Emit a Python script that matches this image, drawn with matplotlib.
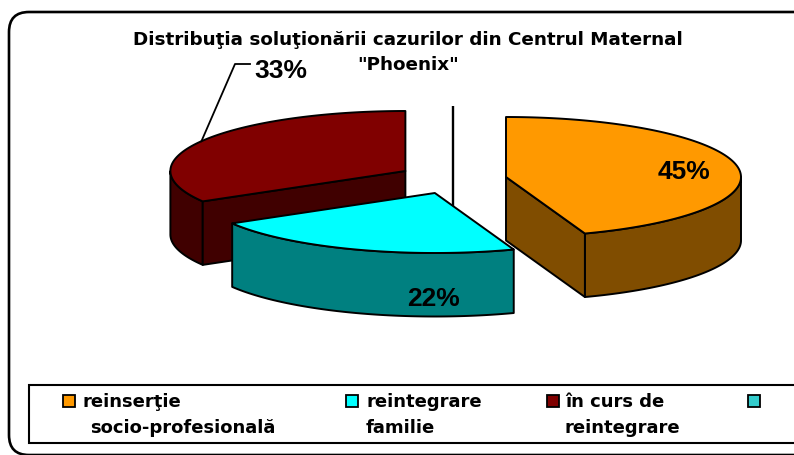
import numpy as np
import matplotlib
matplotlib.use("Agg")
import matplotlib.pyplot as plt
from matplotlib.patches import Polygon, FancyBboxPatch, Rectangle

title_lines = ["Distribuţia soluţionării cazurilor din Centrul Maternal", '"Phoenix"']
categories = ["reinserţie\nsocio-profesională", "reintegrare\nfamilie", "în curs de\nreintegrare", ""]
values = [44.55, 22.0, 33.45]
top_colors = ["#FF9900", "#00FFFF", "#800000"]
side_colors = ["#804D00", "#008080", "#400000"]
legend_colors = ["#FF9900", "#00FFFF", "#800000", "#33CCCC"]

W, H = 794, 456
CX, CY, RX, RY, DEPTH = 452.5, 178.0, 235.0, 60.0, 63.5
EXPLODE_X = [0.231, 0.22, 0.231]
EXPLODE_Y = [0.0, 16 / 60, -6 / 60]
DRAW_ORDER = [2, 0, 1]
LABEL_POS = [(683.5, 172), (433, 299), (281, 71)]
LW = 1.4

plt.rcParams["font.family"] = ["Liberation Sans", "DejaVu Sans"]
fig = plt.figure(figsize=(W / 100, H / 100), dpi=100)
ax = fig.add_axes([0, 0, 1, 1])
ax.set_xlim(0, W)
ax.set_ylim(H, 0)
ax.axis("off")

# outer rounded frame runs past the right edge of the canvas
ax.add_patch(FancyBboxPatch((29, 33), 775, 403, boxstyle="round,pad=20,rounding_size=20",
                            fc="white", ec="black", lw=1.9, clip_on=True, zorder=0))

# black seam running from the pie centre upward, behind the slices
ax.plot([CX, CX], [107, 215], color="black", lw=1.7, zorder=1, solid_capstyle="butt")


def pt(c, deg, dz=0.0):
    t = np.radians(deg)
    return c[0] + RX * np.sin(t), c[1] - RY * np.cos(t) + dz


edges = np.concatenate([[0], np.cumsum(values)]) / np.sum(values) * 360
centers = []
for i in range(len(values)):
    mid = np.radians((edges[i] + edges[i + 1]) / 2)
    centers.append((CX + EXPLODE_X[i] * RX * np.sin(mid), CY + EXPLODE_Y[i] * RY))

z = 2
for i in DRAW_ORDER:
    a0, a1 = edges[i], edges[i + 1]
    c = centers[i]
    sides = []
    # outer wall: only the part of the rim that faces the viewer
    f0, f1 = max(a0, 90), min(a1, 270)
    if f1 > f0:
        th = np.linspace(f0, f1, 120)
        xs, ys = pt(c, th)
        sides.append(np.column_stack([np.r_[xs, xs[::-1]], np.r_[ys, ys[::-1] + DEPTH]]))
    # flat cut walls that face the viewer
    if i == 0:
        x, y = pt(c, a1)
        sides.append(np.array([c, (x, y), (x, y + DEPTH), (c[0], c[1] + DEPTH)]))
    if i == 2:
        x, y = pt(c, a0)
        sides.append(np.array([c, (x, y), (x, y + DEPTH), (c[0], c[1] + DEPTH)]))
    for s in sides:
        ax.add_patch(Polygon(s, closed=True, fc=side_colors[i], ec="black", lw=LW, zorder=z, joinstyle="round"))
    th = np.linspace(a0, a1, 240)
    xs, ys = pt(c, th)
    top = np.column_stack([np.r_[c[0], xs], np.r_[c[1], ys]])
    ax.add_patch(Polygon(top, closed=True, fc=top_colors[i], ec="black", lw=LW, zorder=z + 1, joinstyle="round"))
    z += 2

for v, (x, y) in zip(values, LABEL_POS):
    ax.text(x, y, f"{round(v)}%", fontsize=19, fontweight="bold", ha="center", va="center", color="black", zorder=20)

# leader line of the 33 % label, from the middle of its rim
lx, ly = pt(centers[2], (edges[2] + edges[3]) / 2)
ax.plot([lx, 235, 250], [ly, 65, 65], color="black", lw=1.3, zorder=20)

for line, y, fs in zip(title_lines, [40, 65], [13.25, 13.25]):
    ax.text(408, y, line, fontsize=fs, family="DejaVu Sans", fontweight="bold", ha="center", va="center",
            color="black", zorder=20)

# legend
ax.add_patch(Rectangle((29, 386), 775, 58, fc="white", ec="black", lw=1.5, zorder=15))
key_x = [63, 346, 547, 748]
text_x = [(82, 90), (366, 366), (565, 565), (0, 0)]
for cat, col, kx, tx in zip(categories, legend_colors, key_x, text_x):
    ax.add_patch(Rectangle((kx, 396), 12, 12, fc=col, ec="black", lw=1.3, zorder=16))
    if not cat:
        continue
    for part, x, y in zip(cat.split("\n"), tx, [407, 433]):
        ax.text(x, y, part, fontsize=13, family="DejaVu Sans", fontweight="bold", ha="left", va="baseline",
                color="black", zorder=16)

fig.savefig("out.png", dpi=100)
